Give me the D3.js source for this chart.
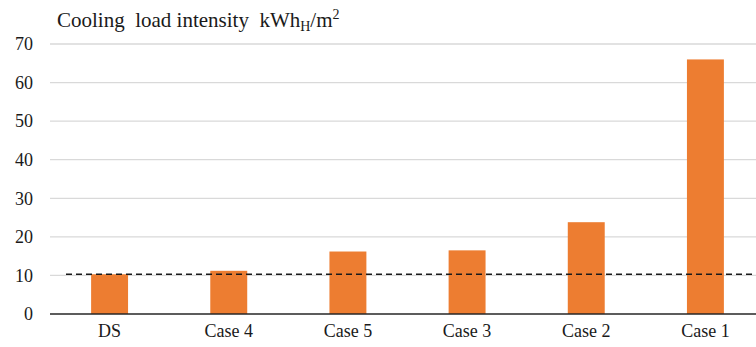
<!DOCTYPE html>
<html>
<head>
<meta charset="utf-8">
<script src="https://cdn.jsdelivr.net/npm/d3@7"></script>
<style>
  body { margin: 0; background: #fff; }
  svg { display: block; font-family: "Liberation Serif", "Times New Roman", serif; }
</style>
</head>
<body>
<script>
// Chart data
const categories = ["DS", "Case 4", "Case 5", "Case 3", "Case 2", "Case 1"];
const loadValues = [10.3, 11.2, 16.2, 16.5, 23.8, 66.0];
const yTicks = [0, 10, 20, 30, 40, 50, 60, 70];
const referenceLine = 10.3;

const width = 756;
const height = 347;
const marginTop = 44;
const marginBottom = 33;
const marginLeft = 50;
const bandRight = 765; // plot runs past the right edge of the picture

const x = d3.scaleBand()
    .domain(categories)
    .range([marginLeft, bandRight])
    .paddingInner(0.69)
    .paddingOuter(0.345);

const y = d3.scaleLinear()
    .domain([0, 70])
    .range([height - marginBottom, marginTop]);

const svg = d3.select("body").append("svg")
    .attr("width", width)
    .attr("height", height)
    .attr("viewBox", [0, 0, width, height]);

// Gridlines
svg.append("g")
    .selectAll("line")
    .data(yTicks.filter(d => d > 0))
    .join("line")
    .attr("x1", marginLeft)
    .attr("x2", width)
    .attr("y1", d => y(d))
    .attr("y2", d => y(d))
    .attr("stroke", "#d9d9d9")
    .attr("stroke-width", 1.3);

// Bars
svg.append("g")
    .attr("fill", "#ed7d31")
    .selectAll("rect")
    .data(categories)
    .join("rect")
    .attr("x", d => x(d))
    .attr("y", (d, i) => y(loadValues[i]))
    .attr("width", x.bandwidth())
    .attr("height", (d, i) => y(0) - y(loadValues[i]));

// Dashed reference line
svg.append("line")
    .attr("x1", 66)
    .attr("x2", width)
    .attr("y1", y(referenceLine))
    .attr("y2", y(referenceLine))
    .attr("stroke", "#1a1a1a")
    .attr("stroke-width", 1.4)
    .attr("stroke-dasharray", "6,4");

// Y axis labels
svg.append("g")
    .attr("transform", `translate(33,0)`)
    .call(d3.axisLeft(y).tickValues(yTicks).tickSize(0).tickPadding(0))
    .call(g => g.select(".domain").remove())
    .call(g => g.selectAll("text")
        .attr("font-family", "Liberation Serif, Times New Roman, serif")
        .attr("font-size", 18)
        .attr("fill", "#1a1a1a"));

// X axis
svg.append("g")
    .attr("transform", `translate(0,${height - marginBottom})`)
    .call(d3.axisBottom(x).tickSize(0).tickPadding(10))
    .call(g => g.select(".domain")
        .attr("d", `M${marginLeft},0H${width}`)
        .attr("stroke", "#262626")
        .attr("stroke-width", 1.5))
    .call(g => g.selectAll("text")
        .attr("font-family", "Liberation Serif, Times New Roman, serif")
        .attr("font-size", 18)
        .attr("fill", "#1a1a1a"));

// Title
const title = svg.append("text")
    .attr("x", 57)
    .attr("y", 27)
    .attr("font-size", 21)
    .attr("fill", "#1a1a1a")
    .style("white-space", "pre");
title.append("tspan").text("Cooling  load intensity  kWh");
title.append("tspan").attr("font-size", 14).attr("dy", 4).text("H");
title.append("tspan").attr("dy", -4).text("/m");
title.append("tspan").attr("font-size", 14).attr("dy", -8).text("2");
</script>
</body>
</html>
